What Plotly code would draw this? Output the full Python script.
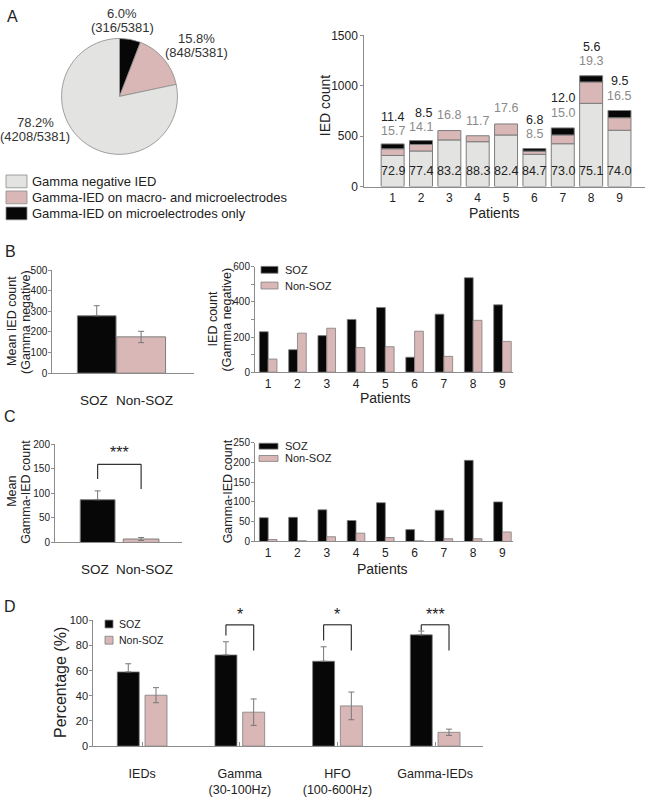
import plotly.graph_objects as go

# ---------------- data ----------------
PIE_LABELS = ["Gamma-IED on microelectrodes only",
              "Gamma-IED on macro- and microelectrodes",
              "Gamma negative IED"]
PIE_COUNTS = [316, 848, 4208]
PIE_TOTAL = 5381
PIE_PCT = [6.0, 15.8, 78.2]

PATIENTS = [1, 2, 3, 4, 5, 6, 7, 8, 9]
TOTAL_IED = [423, 456, 556, 504, 621, 377, 582, 1100, 755]
PCT_NEG = [72.9, 77.4, 83.2, 88.3, 82.4, 84.7, 73.0, 75.1, 74.0]
PCT_MACRO = [15.7, 14.1, 16.8, 11.7, 17.6, 8.5, 15.0, 19.3, 16.5]
PCT_MICRO = [11.4, 8.5, 0.0, 0.0, 0.0, 6.8, 12.0, 5.6, 9.5]

GROUPS = ["SOZ", "Non-SOZ"]
MEAN_NEG = [278, 176]
MEAN_NEG_ERR_UP = [49, 27]
MEAN_NEG_ERR_DN = [0, 28]
SOZ_NEG = [230, 128, 208, 300, 368, 85, 330, 537, 383]
NONSOZ_NEG = [75, 222, 250, 140, 145, 233, 90, 295, 175]

MEAN_GIED = [87, 7]
MEAN_GIED_ERR_UP = [18, 3]
MEAN_GIED_ERR_DN = [0, 3]
SOZ_GIED = [60, 61, 80, 53, 98, 30, 79, 205, 100]
NONSOZ_GIED = [5, 2, 12, 21, 10, 2, 7, 7, 24]

D_CATS = ["IEDs", "Gamma<br>(30-100Hz)", "HFO<br>(100-600Hz)", "Gamma-IEDs"]
D_SOZ = [59, 72.5, 67.5, 88.5]
D_SOZ_ERR = [6.5, 10.5, 11.5, 3]
D_NON = [40.5, 27, 32, 11]
D_NON_ERR = [6, 10.5, 11, 2.5]
D_SIG = ["", "*", "*", "***"]

# ---------------- style ----------------
W, H = 649, 800
def PX(p): return p / W
def PY(p): return 1 - p / H

BLACK = "#070707"
PINK = "#d8b7b6"
GRAY = "#e3e3e1"
EDGE = "#7d7d7d"
AXIS = "#8c8c8c"
TXT = "#222222"
FN = "Liberation Sans, Arial, sans-serif"
FR = "Liberation Sans, Arial, sans-serif"

fig = go.Figure()
ann = []
shapes = []

def txt(x, y, s, size=12, color=TXT, font=FN, angle=0, xanchor="center", xref="paper", yref="paper"):
    ann.append(dict(x=x, y=y, text=s, showarrow=False, xref=xref, yref=yref,
                    font=dict(size=size, color=color, family=font), textangle=angle,
                    xanchor=xanchor, yanchor="middle"))

# ---------------- panel A: pie ----------------
fig.add_trace(go.Pie(values=PIE_COUNTS, labels=PIE_LABELS, sort=False, direction="clockwise",
                     rotation=0, textinfo="none", showlegend=False,
                     marker=dict(colors=[BLACK, PINK, GRAY], line=dict(color="#8a8a8a", width=0.8)),
                     domain=dict(x=[PX(60.5), PX(178.5)], y=[PY(150), PY(32)])))
PIE_LBL_POS = [(122, 7, 21), (196, 32, 46), (35, 118, 132)]
for (x, y1, y2), p, c in zip(PIE_LBL_POS, PIE_PCT, PIE_COUNTS):
    txt(PX(x), PY(y1), f"{p:.1f}%", 13, "#333", FR)
    txt(PX(x), PY(y2), f"({c}/{PIE_TOTAL})", 13, "#333", FR)

# legend A (manual)
LEG_A = [(GRAY, PIE_LABELS[2]), (PINK, PIE_LABELS[1]), (BLACK, PIE_LABELS[0])]
for i, (col, lab) in enumerate(LEG_A):
    y0 = 171 + i * 16.3
    shapes.append(dict(type="rect", xref="paper", yref="paper", x0=PX(6), x1=PX(27),
                       y0=PY(y0 + 13), y1=PY(y0), fillcolor=col, line=dict(color="#8a8a8a", width=0.8)))
    txt(PX(30), PY(y0 + 6.5), lab, 13, TXT, FR, xanchor="left")

# ---------------- panel A: stacked bars ----------------
neg = [t * p / 100 for t, p in zip(TOTAL_IED, PCT_NEG)]
mac = [t * p / 100 for t, p in zip(TOTAL_IED, PCT_MACRO)]
mic = [t * p / 100 if p > 0 else None for t, p in zip(TOTAL_IED, PCT_MICRO)]
base_mic = [a + b for a, b in zip(neg, mac)]
for vals, base, col in [(neg, None, GRAY), (mac, neg, PINK), (mic, base_mic, BLACK)]:
    fig.add_trace(go.Bar(x=PATIENTS, y=vals, base=base, width=0.81, offset=-0.405,
                         marker=dict(color=col, line=dict(color=EDGE, width=1)),
                         xaxis="x", yaxis="y", showlegend=False))
LBL_Y_MICRO = [686, 729, None, None, None, 657, 876, 1382, 1046]
LBL_Y_MACRO = [549, 592, 706, 647, 778, 523, 729, 1242, 899]
LBL_Y_NEG = 157
for i, pt in enumerate(PATIENTS):
    txt(pt, LBL_Y_NEG, f"{PCT_NEG[i]:.1f}", 12.5, TXT, FR, xref="x", yref="y")
    txt(pt, LBL_Y_MACRO[i], f"{PCT_MACRO[i]:.1f}", 12.5, "#8a8a8a", FR, xref="x", yref="y")
    if PCT_MICRO[i] > 0:
        txt(pt + (0.1 if pt == 2 else 0), LBL_Y_MICRO[i], f"{PCT_MICRO[i]:.1f}", 12.5, TXT, FR,
            xref="x", yref="y")

# ---------------- panel B left ----------------
err_style = dict(type="data", symmetric=False, color="#777", thickness=1, width=3)
fig.add_trace(go.Bar(x=GROUPS, y=MEAN_NEG, width=[0.87, 1.10],
                     marker=dict(color=[BLACK, PINK], line=dict(color=EDGE, width=1)),
                     error_y=dict(array=MEAN_NEG_ERR_UP, arrayminus=MEAN_NEG_ERR_DN, **err_style),
                     xaxis="x2", yaxis="y2", showlegend=False))

# ---------------- panel B right ----------------
fig.add_trace(go.Bar(x=PATIENTS, y=SOZ_NEG, width=0.3, offset=-0.3,
                     marker=dict(color=BLACK, line=dict(color=EDGE, width=0.8)),
                     xaxis="x3", yaxis="y3", showlegend=False))
fig.add_trace(go.Bar(x=PATIENTS, y=NONSOZ_NEG, width=0.3, offset=0.0,
                     marker=dict(color=PINK, line=dict(color=EDGE, width=0.8)),
                     xaxis="x3", yaxis="y3", showlegend=False))

# ---------------- panel C left ----------------
fig.add_trace(go.Bar(x=GROUPS, y=MEAN_GIED, width=[0.8, 0.82],
                     marker=dict(color=[BLACK, PINK], line=dict(color=EDGE, width=1)),
                     error_y=dict(array=MEAN_GIED_ERR_UP, arrayminus=MEAN_GIED_ERR_DN, **err_style),
                     xaxis="x4", yaxis="y4", showlegend=False))

# ---------------- panel C right ----------------
fig.add_trace(go.Bar(x=PATIENTS, y=SOZ_GIED, width=0.3, offset=-0.3,
                     marker=dict(color=BLACK, line=dict(color=EDGE, width=0.8)),
                     xaxis="x5", yaxis="y5", showlegend=False))
fig.add_trace(go.Bar(x=PATIENTS, y=NONSOZ_GIED, width=0.3, offset=0.0,
                     marker=dict(color=PINK, line=dict(color=EDGE, width=0.8)),
                     xaxis="x5", yaxis="y5", showlegend=False))

# ---------------- panel D ----------------
D_X = list(range(len(D_CATS)))
D_OFF = 0.142
D_W = 0.225
fig.add_trace(go.Bar(x=D_X, y=D_SOZ, width=D_W, offset=-D_OFF - D_W / 2,
                     marker=dict(color=BLACK, line=dict(color=EDGE, width=0.8)),
                     error_y=dict(array=D_SOZ_ERR, arrayminus=[0] * 4, **err_style),
                     xaxis="x6", yaxis="y6", showlegend=False))
fig.add_trace(go.Bar(x=D_X, y=D_NON, width=D_W, offset=D_OFF - D_W / 2,
                     marker=dict(color=PINK, line=dict(color=EDGE, width=0.8)),
                     error_y=dict(array=D_NON_ERR, arrayminus=D_NON_ERR, **err_style),
                     xaxis="x6", yaxis="y6", showlegend=False))

# ---------------- axes ----------------
def xax(dom, rng, anchor, size=11, **kw):
    d = dict(domain=[PX(dom[0]), PX(dom[1])], range=rng, anchor=anchor, showline=True,
             linecolor=AXIS, linewidth=1, showgrid=False, zeroline=False, ticks="",
             tickangle=0, tickfont=dict(size=size, color=TXT, family=FN))
    d.update(kw)
    return d

def yax(dom, rng, anchor, size=10, **kw):
    d = dict(domain=[PY(dom[1]), PY(dom[0])], range=rng, anchor=anchor, showline=True,
             linecolor=AXIS, linewidth=1, showgrid=False, zeroline=False, ticks="outside",
             ticklen=3, tickcolor=AXIS, ticklabelstandoff=-1,
             tickfont=dict(size=size, color=TXT, family=FN))
    d.update(kw)
    return d

layout_axes = dict(
    xaxis=xax((364.3, 645), [0, 9.9], "y", size=12, tickvals=PATIENTS),
    yaxis=yax((29, 182.7), [0, 1500], "x", size=12, tickvals=[0, 500, 1000, 1500],
              ticklabelstandoff=0),
    xaxis2=xax((52.3, 194), [-1.0, 2.19], "y2", type="category", showticklabels=False),
    yaxis2=yax((267.7, 372.7), [0, 500], "x2", dtick=100),
    xaxis3=xax((255, 513), [0.55, 9.36], "y3", size=12, tickvals=PATIENTS),
    yaxis3=yax((264.3, 371.7), [0, 600], "x3", dtick=200,
               minor=dict(dtick=100, ticks="outside", ticklen=3, tickcolor=AXIS)),
    xaxis4=xax((55, 182), [-0.98, 1.94], "y4", type="category", showticklabels=False),
    yaxis4=yax((445, 545), [0, 200], "x4", dtick=50),
    xaxis5=xax((255, 513), [0.55, 9.36], "y5", size=12, tickvals=PATIENTS),
    yaxis5=yax((443.3, 544), [0, 250], "x5", dtick=50),
    xaxis6=xax((93.3, 483), [-0.5, 3.49], "y6", size=12.5, tickvals=D_X, ticktext=D_CATS,
               ticks="inside", ticklen=4, tickcolor=AXIS, ticklabelstandoff=16),
    yaxis6=yax((624.3, 752.3), [0, 100], "x6", size=11, dtick=20),
)

# group labels under the mean-bar panels (slightly spread, as in the figure)
GROUP_LBL_SHIFT = [-0.07, 0.08]
for xr, yv in [("x2", -0.26), ("x4", -0.28)]:
    for i, g in enumerate(GROUPS):
        ann.append(dict(x=i + GROUP_LBL_SHIFT[i], y=yv, xref=xr,
                        yref=("y2 domain" if xr == "x2" else "y4 domain"), text=g,
                        showarrow=False, font=dict(size=13.5, color=TXT, family=FN),
                        xanchor="center", yanchor="middle"))

# ---------------- titles / labels ----------------
txt(PX(12), PY(10), "A", 16, TXT, FR)
txt(PX(10), PY(249), "B", 16, TXT, FR)
txt(PX(10), PY(417), "C", 16, TXT, FR)
txt(PX(10), PY(610), "D", 16, TXT, FR)

txt(PX(325), PY(100), "IED count", 14, TXT, FN, angle=-90)
txt(PX(494), PY(210), "Patients", 14, TXT, FN)
txt(PX(12.5), PY(320), "Mean IED count", 12.5, TXT, FN, angle=-90)
txt(PX(26.5), PY(320), "(Gamma negative)", 12.5, TXT, FN, angle=-90)
txt(PX(213), PY(318), "IED count", 12.5, TXT, FN, angle=-90)
txt(PX(227), PY(318), "(Gamma negative)", 12.5, TXT, FN, angle=-90)
txt(PX(385), PY(398), "Patients", 14, TXT, FN)
txt(PX(12.5), PY(493), "Mean", 12.5, TXT, FN, angle=-90)
txt(PX(26.5), PY(493), "Gamma-IED count", 12.5, TXT, FN, angle=-90)
txt(PX(228), PY(493), "Gamma-IED count", 12.5, TXT, FN, angle=-90)
txt(PX(382), PY(572), "Patients", 14, TXT, FN)
txt(PX(61), PY(688), "Percentage (%)", 16, TXT, FN, angle=-90)

# legends B right / C right / D
def legend_rows(x0, x1, rows, h, tx, size):
    for yc, col, lab in rows:
        shapes.append(dict(type="rect", xref="paper", yref="paper", x0=PX(x0), x1=PX(x1),
                           y0=PY(yc + h / 2), y1=PY(yc - h / 2), fillcolor=col,
                           line=dict(color=EDGE, width=0.8)))
        txt(PX(tx), PY(yc), lab, size, TXT, FN, xanchor="left")

legend_rows(261, 278, [(267.5, BLACK, "SOZ"), (283.5, PINK, "Non-SOZ")], 7, 283, 11)
legend_rows(259, 278, [(447, BLACK, "SOZ"), (459.5, PINK, "Non-SOZ")], 6, 283, 11)
legend_rows(105, 113, [(628, BLACK, "SOZ"), (644.5, PINK, "Non-SOZ")], 8, 117, 10.5)

# significance C left (data coords on y4)
br = dict(type="line", xref="x4", yref="y4", line=dict(color="#333", width=1.2))
shapes += [dict(x0=0, x1=0, y0=129, y1=159, **br), dict(x0=0, x1=1, y0=159, y1=159, **br),
           dict(x0=1, x1=1, y0=159, y1=109, **br)]
txt(0.5, 183, "***", 16, TXT, FR, xref="x4", yref="y4")

# significance D (x in data, y in paper via axis domain mapping)
yd0, yd1 = PY(752.3), PY(624.3)
def dy(v): return yd0 + v / 100 * (yd1 - yd0)
SIG_LEFT_Y = [None, 88, 84, 92]
SIG_TOP_Y = 96.5
SIG_RIGHT_Y = 76
for i, s in enumerate(D_SIG):
    if not s:
        continue
    xl, xr = i - D_OFF, i + D_OFF
    b = dict(type="line", xref="x6", yref="paper", line=dict(color="#333", width=1.2))
    shapes += [dict(x0=xl, x1=xl, y0=dy(SIG_LEFT_Y[i]), y1=dy(SIG_TOP_Y), **b),
               dict(x0=xl, x1=xr, y0=dy(SIG_TOP_Y), y1=dy(SIG_TOP_Y), **b),
               dict(x0=xr, x1=xr, y0=dy(SIG_TOP_Y), y1=dy(SIG_RIGHT_Y), **b)]
    ann.append(dict(x=i, y=dy(105), xref="x6", yref="paper", text=s, showarrow=False,
                    font=dict(size=16, color=TXT, family=FR), xanchor="center", yanchor="middle"))

fig.update_layout(width=W, height=H, margin=dict(l=0, r=0, t=0, b=0),
                  paper_bgcolor="white", plot_bgcolor="white", barmode="overlay",
                  annotations=ann, shapes=shapes, **layout_axes)

fig.write_html("out.html", config={"displayModeBar": False},
               post_script="document.body.style.margin='0';document.body.style.overflow='hidden';")
